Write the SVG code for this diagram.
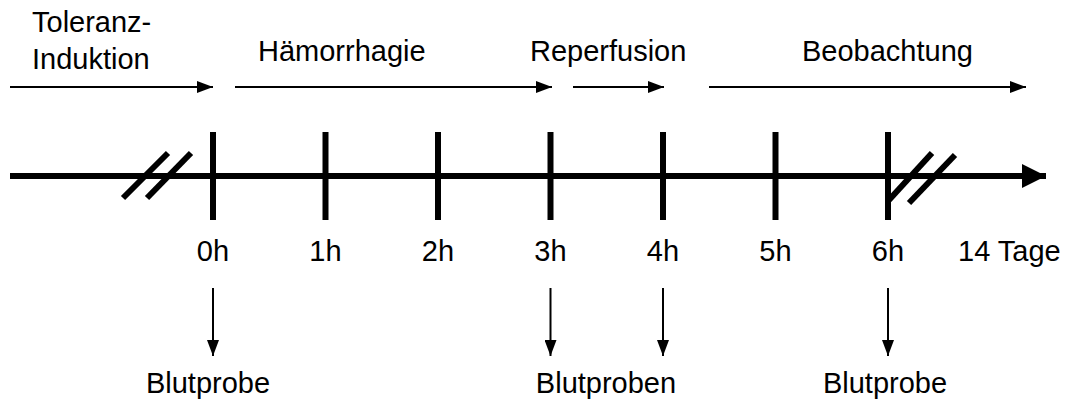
<svg xmlns="http://www.w3.org/2000/svg" width="1075" height="402" viewBox="0 0 1075 402">
  <defs>
    <marker id="head" markerWidth="8" markerHeight="6" refX="8" refY="3" orient="auto" markerUnits="strokeWidth">
      <path d="M0,0 L8,3 L0,6 Z" fill="#000"/>
    </marker>
    <marker id="axisHead" markerWidth="4" markerHeight="4" refX="4" refY="2" orient="auto" markerUnits="strokeWidth">
      <path d="M0,0 L4,2 L0,4 Z" fill="#000"/>
    </marker>
  </defs>
  <style>
    text { font-family: "Liberation Sans", Arial, sans-serif; font-size: 29px; fill: #000; }
    .mid { text-anchor: middle; }
    .phase { stroke: #000; stroke-width: 2; fill: none; marker-end: url(#head); }
    .sample { stroke: #000; stroke-width: 2; fill: none; marker-end: url(#head); }
    .axis { stroke: #000; stroke-width: 6; fill: none; }
    .tick { stroke: #000; stroke-width: 6; }
    .brk { stroke: #000; stroke-width: 6; stroke-linecap: butt; }
  </style>
  <rect width="1075" height="402" fill="#fff"/>

  <!-- phase labels -->
  <g id="phase-toleranz">
    <text x="32" y="32">Toleranz-</text>
    <text x="32" y="69">Induktion</text>
  </g>
  <g id="phase-haemorrhagie"><text x="258" y="61">Hämorrhagie</text></g>
  <g id="phase-reperfusion"><text x="530" y="61">Reperfusion</text></g>
  <g id="phase-beobachtung"><text x="802" y="61">Beobachtung</text></g>

  <!-- time axis with break marks -->
  <g id="timeline">
    <line class="axis" x1="10" y1="176" x2="1046" y2="176" marker-end="url(#axisHead)"/>
    <line class="brk" x1="123" y1="198" x2="168" y2="153"/>
    <line class="brk" x1="147" y1="198" x2="191" y2="153"/>
    <line class="brk" x1="889" y1="200" x2="932" y2="153"/>
    <line class="brk" x1="909" y1="203" x2="955" y2="155"/>
  </g>

  <!-- hour ticks -->
  <g id="ticks">
    <line class="tick" x1="213" y1="132" x2="213" y2="220"/>
    <line class="tick" x1="325.5" y1="132" x2="325.5" y2="220"/>
    <line class="tick" x1="438" y1="132" x2="438" y2="220"/>
    <line class="tick" x1="550.5" y1="132" x2="550.5" y2="220"/>
    <line class="tick" x1="663" y1="132" x2="663" y2="220"/>
    <line class="tick" x1="775.5" y1="132" x2="775.5" y2="220"/>
    <line class="tick" x1="888" y1="132" x2="888" y2="220"/>
  </g>

  <!-- hour labels -->
  <g id="hour-labels">
    <text class="mid" x="213" y="261">0h</text>
    <text class="mid" x="325.5" y="261">1h</text>
    <text class="mid" x="438" y="261">2h</text>
    <text class="mid" x="550.5" y="261">3h</text>
    <text class="mid" x="663" y="261">4h</text>
    <text class="mid" x="775.5" y="261">5h</text>
    <text class="mid" x="888" y="261">6h</text>
    <text x="958" y="261">14 Tage</text>
  </g>

  <!-- connectors: phase arrows and sampling arrows -->
  <g id="connectors">
    <line class="phase" x1="10" y1="87" x2="213" y2="87"/>
    <line class="phase" x1="235" y1="87" x2="552" y2="87"/>
    <line class="phase" x1="573" y1="87" x2="664" y2="87"/>
    <line class="phase" x1="709" y1="87" x2="1026" y2="87"/>
    <line class="sample" x1="213" y1="288" x2="213" y2="356"/>
    <line class="sample" x1="550.5" y1="288" x2="550.5" y2="356"/>
    <line class="sample" x1="663" y1="288" x2="663" y2="356"/>
    <line class="sample" x1="888" y1="288" x2="888" y2="356"/>
  </g>

  <!-- sample labels -->
  <g id="sample-0h"><text class="mid" x="208" y="393">Blutprobe</text></g>
  <g id="sample-3h-4h"><text class="mid" x="606" y="393">Blutproben</text></g>
  <g id="sample-6h"><text class="mid" x="885" y="393">Blutprobe</text></g>
</svg>
